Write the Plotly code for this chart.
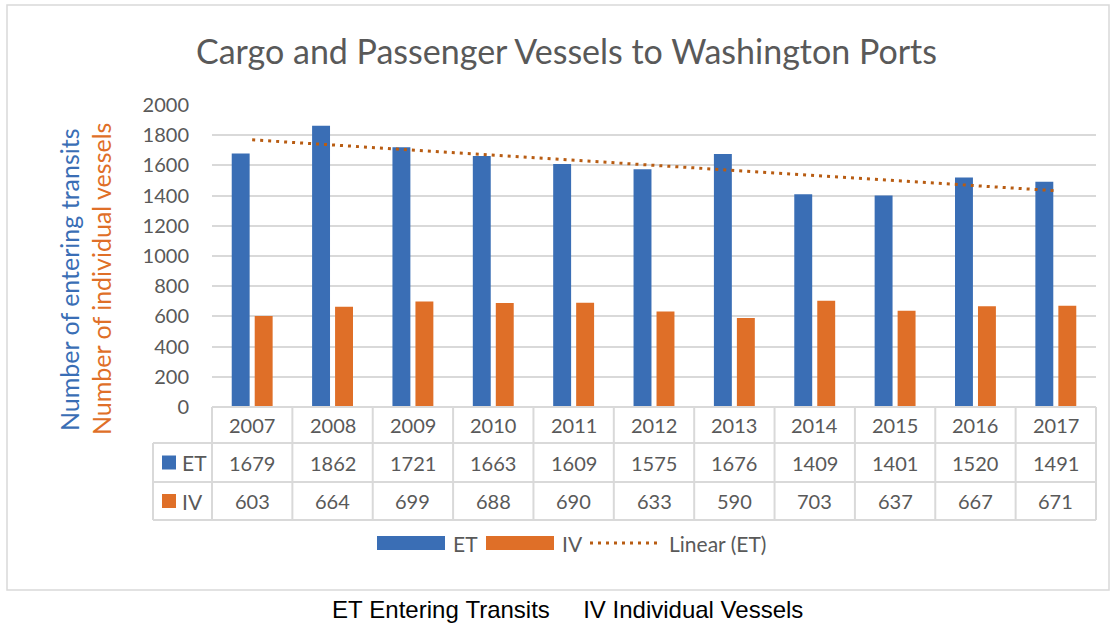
import numpy as np
import plotly.graph_objects as go

years = [2007, 2008, 2009, 2010, 2011, 2012, 2013, 2014, 2015, 2016, 2017]
et_values = [1679, 1862, 1721, 1663, 1609, 1575, 1676, 1409, 1401, 1520, 1491]
iv_values = [603, 664, 699, 688, 690, 633, 590, 703, 637, 667, 671]
series_names = ["ET", "IV"]
trend_name = "Linear (ET)"
title_text = "Cargo and Passenger Vessels to Washington Ports"
ytitle_et = "Number of entering transits"
ytitle_iv = "Number of individual vessels"
caption = "ET Entering Transits     IV Individual Vessels"

W, H = 1114, 624
PL, PR, PT, PB = 212, 1096, 105, 407
BLUE = "#3A6EB5"
ORANGE = "#DF6F28"
TREND = "#B85C12"
GRID = "#D9D9D9"
TXT = "#595959"
FONT = "Lato"


def xp(px):
    return (px - PL) / (PR - PL)


def yp(py):
    return (PB - py) / (PB - PT)


coef = np.polyfit(np.array(years, dtype=float), np.array(et_values, dtype=float), 1)
trend = np.polyval(coef, np.array(years, dtype=float))

fig = go.Figure()
fig.add_trace(go.Bar(x=years, y=et_values, name=series_names[0], marker_color=BLUE, marker_line_width=0))
fig.add_trace(go.Bar(x=years, y=iv_values, name=series_names[1], marker_color=ORANGE, marker_line_width=0))
fig.add_trace(go.Scatter(x=years, y=trend, mode="lines", name=trend_name,
                         line=dict(color=TREND, width=3, dash="3px,5px")))

shapes = []
annotations = []

# outer chart border
shapes.append(dict(type="rect", xref="paper", yref="paper", x0=xp(7), x1=xp(1109), y0=yp(590), y1=yp(5),
                   line=dict(color=GRID, width=1.5), fillcolor="rgba(0,0,0,0)", layer="below"))

# table geometry
row_year = (407, 443)
row_et = (443, 482)
row_iv = (482, 520)
left_col = 153
n = len(years)
cw = (PR - PL) / n

line_style = dict(color=GRID, width=2)
shapes.append(dict(type="line", xref="paper", yref="paper", x0=xp(PL), x1=xp(PR), y0=yp(407), y1=yp(407), line=line_style))
for yy in (443, 482, 520):
    shapes.append(dict(type="line", xref="paper", yref="paper", x0=xp(left_col), x1=xp(PR), y0=yp(yy), y1=yp(yy), line=line_style))
for k in range(n + 1):
    xx = PL + k * cw
    shapes.append(dict(type="line", xref="paper", yref="paper", x0=xp(xx), x1=xp(xx), y0=yp(407), y1=yp(520), line=line_style))
shapes.append(dict(type="line", xref="paper", yref="paper", x0=xp(left_col), x1=xp(left_col), y0=yp(443), y1=yp(520), line=line_style))

tfont = dict(family=FONT, size=20, color=TXT)
lfont = dict(family=FONT, size=21, color=TXT)
for i, yr in enumerate(years):
    annotations.append(dict(x=yr, xref="x", y=yp(sum(row_year) / 2), yref="paper", text=str(yr),
                            showarrow=False, font=tfont, xanchor="center", yanchor="middle"))
    annotations.append(dict(x=yr, xref="x", y=yp(sum(row_et) / 2), yref="paper", text=str(et_values[i]),
                            showarrow=False, font=tfont, xanchor="center", yanchor="middle"))
    annotations.append(dict(x=yr, xref="x", y=yp(sum(row_iv) / 2), yref="paper", text=str(iv_values[i]),
                            showarrow=False, font=tfont, xanchor="center", yanchor="middle"))

for (r0, r1), name, col in ((row_et, series_names[0], BLUE), (row_iv, series_names[1], ORANGE)):
    cy = (r0 + r1) / 2
    shapes.append(dict(type="rect", xref="paper", yref="paper", x0=xp(162), x1=xp(176), y0=yp(cy + 7), y1=yp(cy - 7),
                       line=dict(width=0), fillcolor=col))
    annotations.append(dict(x=xp(180), xref="paper", y=yp(cy), yref="paper", text=name, showarrow=False,
                            font=lfont, xanchor="left", yanchor="middle"))

# bottom legend
ly = 543
shapes.append(dict(type="rect", xref="paper", yref="paper", x0=xp(377), x1=xp(445), y0=yp(ly + 7), y1=yp(ly - 7),
                   line=dict(width=0), fillcolor=BLUE))
annotations.append(dict(x=xp(451), xref="paper", y=yp(ly), yref="paper", text=series_names[0], showarrow=False,
                        font=lfont, xanchor="left", yanchor="middle"))
shapes.append(dict(type="rect", xref="paper", yref="paper", x0=xp(486), x1=xp(554), y0=yp(ly + 7), y1=yp(ly - 7),
                   line=dict(width=0), fillcolor=ORANGE))
annotations.append(dict(x=xp(560), xref="paper", y=yp(ly), yref="paper", text=series_names[1], showarrow=False,
                        font=lfont, xanchor="left", yanchor="middle"))
shapes.append(dict(type="line", xref="paper", yref="paper", x0=xp(590), x1=xp(661), y0=yp(ly), y1=yp(ly),
                   line=dict(color=TREND, width=3, dash="3px,5px")))
annotations.append(dict(x=xp(667), xref="paper", y=yp(ly), yref="paper", text=trend_name, showarrow=False,
                        font=lfont, xanchor="left", yanchor="middle"))

# y axis titles
annotations.append(dict(x=xp(69), xref="paper", y=yp(280), yref="paper", text=ytitle_et, showarrow=False,
                        textangle=-90, font=dict(family=FONT, size=25, color=BLUE), xanchor="center", yanchor="middle"))
annotations.append(dict(x=xp(101), xref="paper", y=yp(279), yref="paper", text=ytitle_iv, showarrow=False,
                        textangle=-90, font=dict(family=FONT, size=25, color=ORANGE), xanchor="center", yanchor="middle"))

# title
annotations.append(dict(x=xp(566), xref="paper", y=yp(50), yref="paper", text=title_text, showarrow=False,
                        font=dict(family=FONT, size=34, color=TXT), xanchor="center", yanchor="middle"))

# caption
annotations.append(dict(x=xp(567), xref="paper", y=yp(609), yref="paper", text=caption.replace(" ", "&nbsp;"), showarrow=False,
                        font=dict(family="Liberation Sans", size=24, color="#000000"), xanchor="center", yanchor="middle"))

fig.update_layout(
    width=W, height=H,
    margin=dict(l=PL, r=W - PR, t=PT, b=H - PB, pad=0),
    paper_bgcolor="white", plot_bgcolor="white",
    barmode="group", bargap=0.428, bargroupgap=0.22,
    showlegend=False,
    shapes=shapes, annotations=annotations,
    xaxis=dict(range=[2006.5, 2017.5], showticklabels=False, showgrid=False, zeroline=False, showline=False,
               fixedrange=True),
    yaxis=dict(range=[0, 2000], dtick=200, tick0=0, showgrid=True, gridcolor=GRID, gridwidth=1.5,
               zeroline=False, showline=False, ticks="", ticklabelstandoff=22,
               tickfont=dict(family=FONT, size=20, color=TXT)),
)

fig.write_html("out.html", config={"displayModeBar": False},
               post_script="document.body.style.margin='0px';document.body.style.overflow='hidden';")
